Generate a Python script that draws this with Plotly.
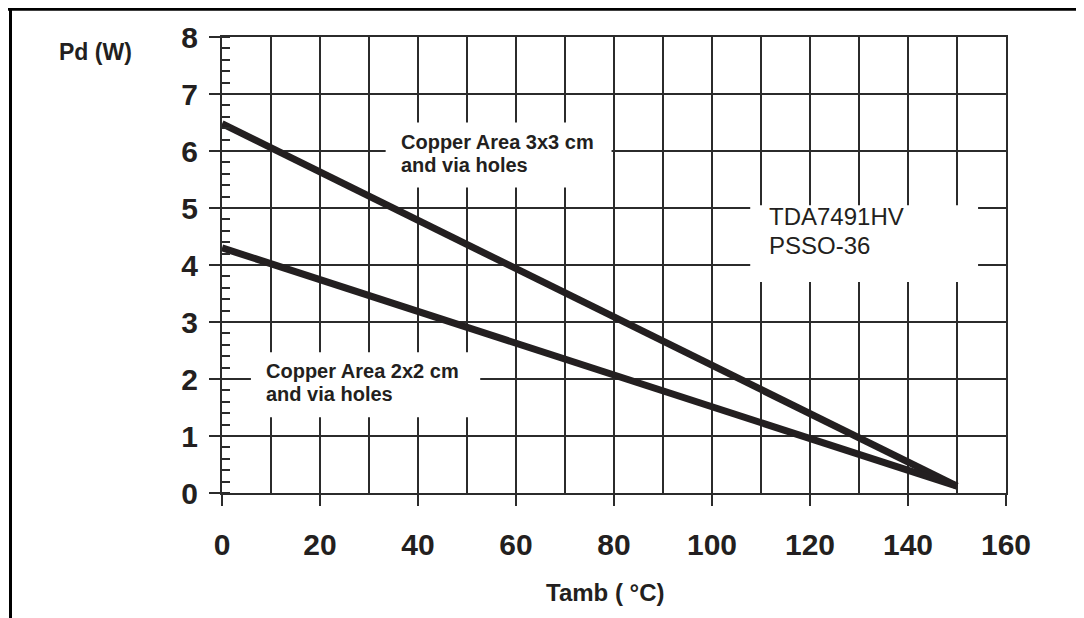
import plotly.graph_objects as go

# ---- data ----
tamb = [0, 150]
pd_3x3 = [6.48, 0.12]
pd_2x2 = [4.30, 0.12]

x_ticks = [0, 20, 40, 60, 80, 100, 120, 140, 160]
y_ticks = [0, 1, 2, 3, 4, 5, 6, 7, 8]

label_3x3 = ["Copper Area 3x3 cm", "and via holes"]
label_2x2 = ["Copper Area 2x2 cm", "and via holes"]
label_dev = ["TDA7491HV", "PSSO-36"]

INK = "#231f20"
GRID = "#2b2b2b"
FONT = "Liberation Sans, Arial, sans-serif"

OFF = 8  # page body margin
W, H = 1084 - OFF, 618 - OFF
# plot area in page pixels: x 222..1006, y 36.7..492.7
L = 222 - OFF
T = 37 - OFF
PW, PH = 784, 456
R = W - L - PW
B = H - T - PH


def px_to_paper(px, py):
    fx, fy = px - OFF, py - OFF
    return (fx - L) / PW, (T + PH - fy) / PH


fig = go.Figure()
fig.add_trace(go.Scatter(x=tamb, y=pd_3x3, mode="lines",
                         line=dict(color=INK, width=7), showlegend=False,
                         hoverinfo="skip"))
fig.add_trace(go.Scatter(x=tamb, y=pd_2x2, mode="lines",
                         line=dict(color=INK, width=7), showlegend=False,
                         hoverinfo="skip"))

shapes = []
# white boxes hiding the grid under the labels (data coords)
for (x0, x1, y0, y1) in [(33.4, 79.5, 5.36, 6.50),
                         (5.9, 52.7, 1.33, 2.47),
                         (107.8, 154.3, 3.70, 5.05)]:
    shapes.append(dict(type="rect", xref="x", yref="y", x0=x0, x1=x1,
                       y0=y0, y1=y1, fillcolor="white",
                       line=dict(width=0), layer="between"))

# outer frame (left and top) in paper coords
fx0, fy_top = px_to_paper(10.5, 9.3)
_, fy_bot = px_to_paper(10.5, 625)
fx_right, _ = px_to_paper(1095, 9)
fx_left_top, _ = px_to_paper(4, 9)
shapes.append(dict(type="line", xref="paper", yref="paper", x0=fx0, x1=fx0,
                   y0=fy_bot, y1=fy_top, line=dict(color="black", width=3)))
shapes.append(dict(type="line", xref="paper", yref="paper", x0=fx_left_top,
                   x1=fx_right, y0=fy_top, y1=fy_top,
                   line=dict(color="black", width=3)))

annotations = []


def add_text(px, py, text, size, bold, xanchor="left"):
    ax, ay = px_to_paper(px, py)
    t = f"<b>{text}</b>" if bold else text
    annotations.append(dict(x=ax, y=ay, xref="paper", yref="paper", text=t,
                            showarrow=False, xanchor=xanchor, yanchor="middle",
                            font=dict(family=FONT, size=size, color=INK)))


add_text(399, 142, label_3x3[0], 20, True)
add_text(399, 165, label_3x3[1], 20, True)
add_text(264, 371, label_2x2[0], 20, True)
add_text(264, 394, label_2x2[1], 20, True)
add_text(767, 216, label_dev[0], 24, False)
add_text(767, 245, label_dev[1], 24, False)
add_text(95, 52, "Pd (W)", 23, True, xanchor="center")
add_text(605, 592, "Tamb ( °C)", 24, True, xanchor="center")

fig.update_layout(
    width=W, height=H,
    margin=dict(l=L, r=R, t=T, b=B, pad=0),
    paper_bgcolor="white", plot_bgcolor="white",
    shapes=shapes, annotations=annotations,
    xaxis=dict(range=[0, 160], tickmode="array", tickvals=x_ticks,
               ticktext=[f"<b>{v}</b>" for v in x_ticks],
               ticks="outside", ticklen=11, tickwidth=2, tickcolor=GRID,
               showgrid=True, gridcolor=GRID, gridwidth=2,
               minor=dict(dtick=10, showgrid=True, gridcolor=GRID,
                          gridwidth=2, ticks=""),
               showline=True, linecolor=GRID, linewidth=2, mirror=True,
               zeroline=False, ticklabelstandoff=13,
               tickfont=dict(family=FONT, size=30, color=INK)),
    yaxis=dict(range=[0, 8], tickmode="array", tickvals=y_ticks,
               ticktext=[f"<b>{v}</b>" for v in y_ticks],
               ticks="outside", ticklen=11, tickwidth=2, tickcolor=GRID,
               showgrid=True, gridcolor=GRID, gridwidth=2,
               minor=dict(dtick=0.2, ticks="inside", ticklen=8,
                          tickwidth=2, tickcolor=GRID, showgrid=False),
               showline=True, linecolor=GRID, linewidth=2, mirror=True,
               zeroline=False, ticklabelstandoff=5,
               tickfont=dict(family=FONT, size=30, color=INK)),
)

fig.write_html("out.html")
